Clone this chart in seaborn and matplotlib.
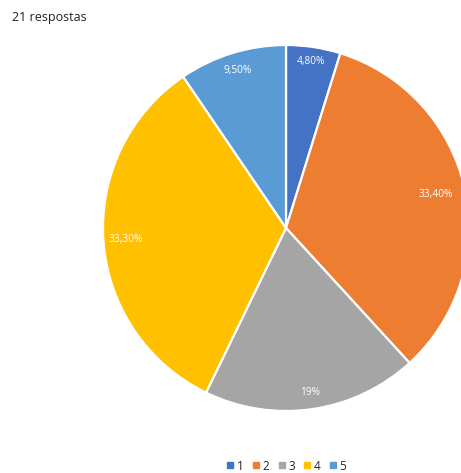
import matplotlib
matplotlib.use("Agg")
import matplotlib.pyplot as plt
from matplotlib.lines import Line2D
import numpy as np
import seaborn as sns

# Survey answers (scale 1-5) and their share of the 21 responses, in percent
categories = ["1", "2", "3", "4", "5"]
shares = [4.8, 33.4, 19.0, 33.3, 9.5]
colors = ["#4472C4", "#ED7D31", "#A5A5A5", "#FFC000", "#5B9BD5"]
title = "21 respostas"

sns.set_style("white")
plt.rcParams["font.family"] = ["Open Sans", "DejaVu Sans"]


def pct_label(v):
    if float(v).is_integer():
        return f"{int(v)}%"
    return f"{v:.2f}".replace(".", ",") + "%"


W, H = 461, 473
fig = plt.figure(figsize=(W / 100, H / 100), dpi=100)
ax = fig.add_axes([0, 0, 1, 1])

# pie centre and radius in pixels
cx, cy, r = 286, 228, 183

ax.pie(
    shares,
    colors=colors,
    startangle=90,
    counterclock=False,
    radius=1.0,
    wedgeprops=dict(edgecolor="white", linewidth=1.6),
    frame=True,
)
ax.set_xlim(-cx / r, (W - cx) / r)
ax.set_ylim((cy - H) / r, cy / r)
ax.set_aspect("auto")
ax.axis("off")

# percentage labels placed near the outer rim of each slice
dist = [0.92, 0.84, 0.91, 0.88, 0.90]
start = 90.0
for v, d in zip(shares, dist):
    mid = np.deg2rad(start - v * 3.6 / 2)
    ax.text(d * np.cos(mid), d * np.sin(mid), pct_label(v),
            ha="center", va="center", color="white", fontsize=7.3)
    start -= v * 3.6

fig.text(12 / W, 1 - 17 / H, title, ha="left", va="center",
         fontsize=9, color="#222222")

handles = [Line2D([0], [0], marker="s", linestyle="none", markersize=4,
                  markerfacecolor=c, markeredgecolor=c) for c in colors]
fig.legend(handles, categories, loc="center", ncol=5,
           bbox_to_anchor=(286 / W, 1 - 466 / H),
           frameon=False, fontsize=8.5, handlelength=0.7,
           handletextpad=0.2, columnspacing=0.7, borderpad=0)

fig.savefig("out.png", dpi=100)
